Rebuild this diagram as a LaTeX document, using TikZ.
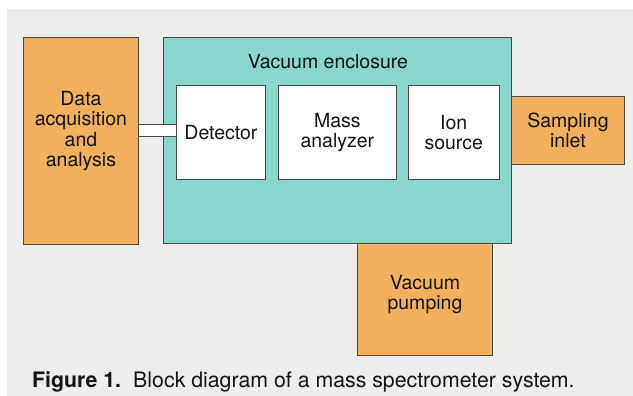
\documentclass[tikz,border=0pt]{standalone}
\usepackage{fontspec}
\setmainfont{TeX Gyre Heros}
\usepackage{tikz}
\usetikzlibrary{positioning}
\definecolor{paper}{RGB}{237,237,235}
\definecolor{amber}{RGB}{242,175,94}
\definecolor{teal}{RGB}{136,214,204}
\definecolor{edge}{RGB}{72,72,70}

\begin{document}
\begin{tikzpicture}[
  x=1pt, y=-1pt,
  every node/.style={font=\fontsize{19.5}{20.5}\selectfont, inner sep=0pt, text=black!92},
  box/.style={draw=edge, line width=0.9pt, anchor=north west, align=center},
  unit/.style={box, fill=amber},
  part/.style={box, fill=white, minimum height=94pt},
  tag/.style={align=center}
]
\useasboundingbox (0,0) rectangle (633,396);
\fill[paper] (7,9) rectangle (633,396);

% outer units
\node[unit, minimum width=115pt, minimum height=207pt,
  label={[tag, yshift=10pt]center:Data\\acquisition\\and\\analysis}] (data) at (23,37) {};
\node[box, fill=teal, minimum width=348pt, minimum height=206pt] (encl) at (163,37) {};
\node[tag] (encltitle) at (328,62) {Vacuum enclosure};
\node[unit, minimum width=113pt, minimum height=68pt] (inlet) at (511,96) {Sampling\\inlet};
\node[unit, minimum width=135pt, minimum height=112pt,
  label={[tag, yshift=5pt]center:Vacuum\\pumping}] (pump) at (357,243) {};

% inside the enclosure
\node[part, minimum width=89pt] (det) at (176,85) {Detector};
\node[part, minimum width=118pt, right=12pt of det] (mass) {Mass\\analyzer};
\node[part, minimum width=91pt, right=11pt of mass] (ion) {Ion\\source};

% cable from detector to data unit
\fill[white] (data.east |- 0,124) rectangle (det.west |- 0,136);
\draw[edge, line width=0.9pt] (data.east |- 0,124) -- (det.west |- 0,124)
  (data.east |- 0,136) -- (det.west |- 0,136);

\node[anchor=base west, font=\fontsize{21.3}{22}\selectfont] (caption) at (32,387)
  {\textbf{Figure 1.}\hspace{0.2em} Block diagram of a mass spectrometer system.};
\end{tikzpicture}
\end{document}
